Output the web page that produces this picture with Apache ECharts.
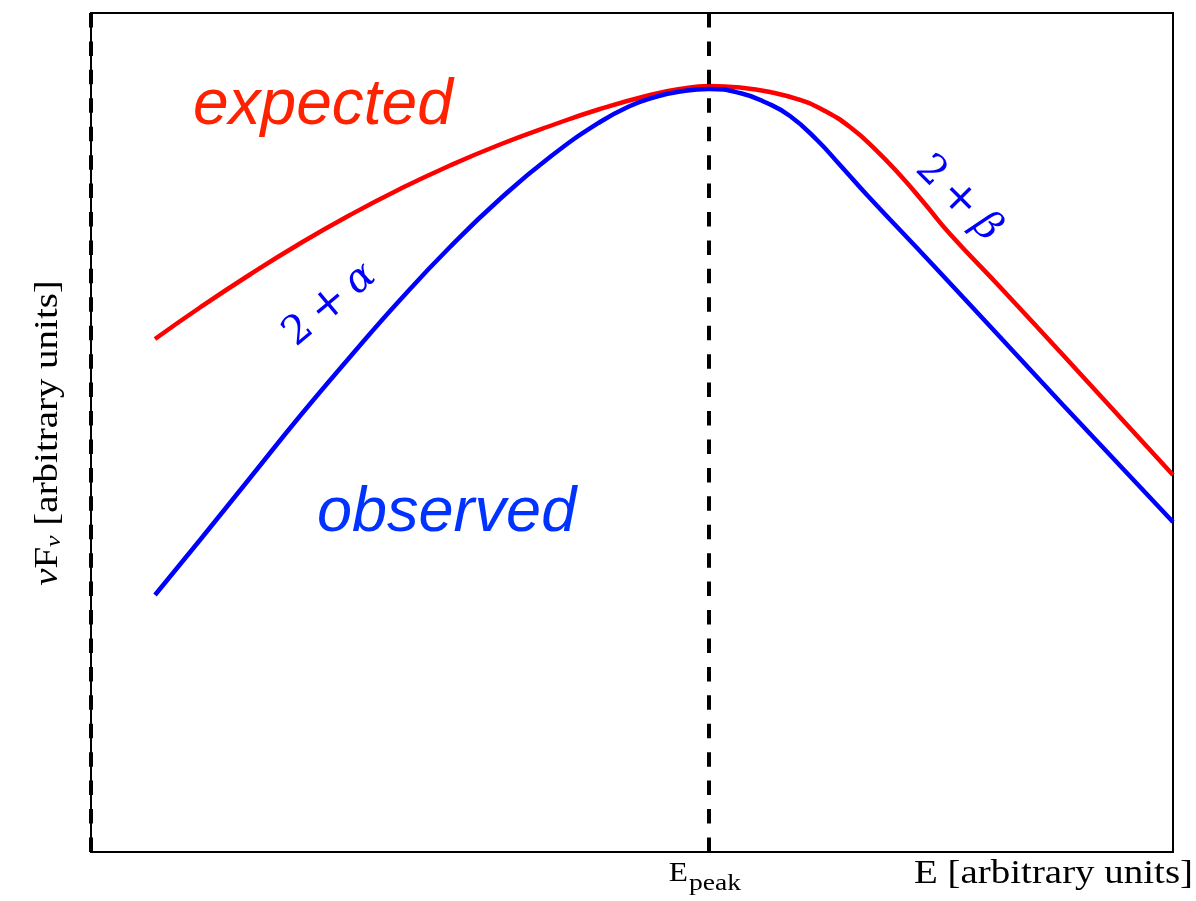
<!DOCTYPE html>
<html>
<head>
<meta charset="utf-8">
<script src="https://cdn.jsdelivr.net/npm/echarts@6/dist/echarts.min.js"></script>
<style>
  html, body { margin: 0; padding: 0; background: #fff; }
  #chart { width: 1196px; height: 901px; }
</style>
</head>
<body>
<div id="chart"></div>
<script>
// Schematic nuFnu spectrum (arbitrary units, log E on x, log nuFnu on y)
const expectedE    = [0.5915, 1.0074, 1.4695, 1.9316, 2.3937, 2.8558, 3.3179, 3.7800, 4.2421, 4.7043,
                      5.1664, 5.4436, 5.7116, 5.9982, 6.2754, 6.5527, 6.7837, 7.0148, 7.2458, 7.4769,
                      7.7079, 7.9390, 8.4011, 8.9834, 10.0];
const expectedFlux = [6.1144, 6.4899, 6.8832, 7.2527, 7.5924, 7.9023, 8.1824, 8.4326, 8.6532, 8.8558,
                      9.0226, 9.0942, 9.1299, 9.1120, 9.0584, 8.9631, 8.8319, 8.6412, 8.3790, 8.0691,
                      7.7235, 7.3659, 6.7342, 5.9237, 4.4934];

const observedE    = [0.5915, 1.0074, 1.4695, 1.9316, 2.3937, 2.8558, 3.3179, 3.7800, 4.2421, 4.7043,
                      4.9815, 5.2126, 5.4436, 5.7116, 5.9982, 6.2477, 6.4603, 6.7098, 6.9224, 7.1719,
                      7.7819, 8.4011, 8.9834, 10.0];
const observedFlux = [3.0632, 3.7187, 4.4577, 5.1967, 5.8999, 6.5793, 7.2110, 7.7831, 8.2837, 8.7008,
                      8.8915, 8.9988, 9.0644, 9.0942, 9.0465, 8.9273, 8.7723, 8.4863, 8.1883, 7.8308,
                      6.9964, 6.1383, 5.3278, 3.9333];

const peakEnergy = 5.7116;
const xRange = [0, 10];
const yRange = [0, 10];

const pairs = (xs, ys) => xs.map((x, i) => [x, ys[i]]);

const chart = echarts.init(document.getElementById('chart'), null, { renderer: 'canvas' });

const serif = '"Liberation Serif", "Times New Roman", serif';
const mathSerif = '"DejaVu Serif", serif';
const sans = '"Liberation Sans", Arial, sans-serif';

const mathStyle = (size) => ({
  n: { fontSize: size, fontFamily: mathSerif, fontStyle: 'normal', color: '#0000ff' },
  p: { fontSize: size * 1.1, fontFamily: mathSerif, fontStyle: 'normal', color: '#0000ff' },
  a: { fontSize: size, fontFamily: mathSerif, fontStyle: 'italic', color: '#0000ff' }
});

chart.setOption({
  animation: false,
  backgroundColor: '#ffffff',
  grid: {
    left: 91, top: 13, right: 23, bottom: 49,
    show: true, borderColor: '#000', borderWidth: 2, backgroundColor: 'transparent'
  },
  xAxis: {
    type: 'value', min: xRange[0], max: xRange[1],
    axisLine: { show: false }, axisTick: { show: false },
    axisLabel: { show: false }, splitLine: { show: false }
  },
  yAxis: {
    type: 'value', min: yRange[0], max: yRange[1],
    axisLine: { show: false }, axisTick: { show: false },
    axisLabel: { show: false }, splitLine: { show: false }
  },
  series: [
    {
      name: 'expected', type: 'line', data: pairs(expectedE, expectedFlux),
      smooth: 0.5, showSymbol: false, z: 3,
      lineStyle: { color: '#ff0000', width: 4.5 }
    },
    {
      name: 'observed', type: 'line', data: pairs(observedE, observedFlux),
      smooth: 0.5, showSymbol: false, z: 4,
      lineStyle: { color: '#0000ff', width: 4.5 }
    },
    {
      name: 'markers', type: 'line', data: [], z: 5,
      markLine: {
        silent: true, symbol: ['none', 'none'], label: { show: false },
        lineStyle: { color: '#000', width: 4, type: [14.5, 13.93] },
        data: [
          [{ coord: [peakEnergy, yRange[1]] }, { coord: [peakEnergy, yRange[0]] }],
          [{ coord: [xRange[0], yRange[1]] }, { coord: [xRange[0], yRange[0]] }]
        ]
      }
    }
  ],
  graphic: [
    {
      type: 'text', x: 193, y: 106, z: 10,
      style: { text: 'expected', fontSize: 64, fontStyle: 'italic', fontFamily: sans, fill: '#ff2200',
               align: 'left', verticalAlign: 'middle' }
    },
    {
      type: 'text', x: 317, y: 513, z: 10,
      style: { text: 'observed', fontSize: 63, fontStyle: 'italic', fontFamily: sans, fill: '#0033ff',
               align: 'left', verticalAlign: 'middle' }
    },
    {
      type: 'text', x: 330, y: 305, rotation: 40 * Math.PI / 180, z: 10,
      style: {
        text: '{n|2}{p|\u2009+\u2009}{a|α}', fontSize: 40, fontFamily: mathSerif, fill: '#0000ff',
        align: 'center', verticalAlign: 'middle', rich: mathStyle(40)
      }
    },
    {
      type: 'text', x: 958, y: 199, rotation: -45 * Math.PI / 180, z: 10,
      style: {
        text: '{n|2}{p|\u2009+\u2009}{a|β}', fontSize: 40, fontFamily: mathSerif, fill: '#0000ff',
        align: 'center', verticalAlign: 'middle', rich: mathStyle(40)
      }
    },
    // x-axis annotations
    {
      type: 'text', x: 688, y: 874, scaleX: 1.12, z: 10,
      style: { text: 'E', fontSize: 28, fontFamily: serif, fill: '#000', align: 'right', verticalAlign: 'middle' }
    },
    {
      type: 'text', x: 689, y: 884, scaleX: 1.2, z: 10,
      style: { text: 'peak', fontSize: 23, fontFamily: serif, fill: '#000', align: 'left', verticalAlign: 'middle' }
    },
    {
      type: 'text', x: 1193, y: 874, scaleX: 1.18, z: 10,
      style: { text: 'E [arbitrary units]', fontSize: 33, fontFamily: serif, fill: '#000', align: 'right', verticalAlign: 'middle' }
    },
    // y-axis title
    {
      type: 'text', x: 48, y: 433, rotation: Math.PI / 2, scaleX: 1.18, z: 10,
      style: {
        text: '{v|ν}{f|F}{s|ν}{t| [arbitrary units]}', fontSize: 33, fontFamily: serif, fill: '#000',
        align: 'center', verticalAlign: 'middle',
        rich: {
          v: { fontSize: 33, fontFamily: serif, fontStyle: 'italic', color: '#000' },
          f: { fontSize: 33, fontFamily: serif, color: '#000' },
          s: { fontSize: 22, fontFamily: serif, fontStyle: 'italic', color: '#000', padding: [12, 0, 0, 0] },
          t: { fontSize: 33, fontFamily: serif, color: '#000' }
        }
      }
    }
  ]
});
</script>
</body>
</html>
